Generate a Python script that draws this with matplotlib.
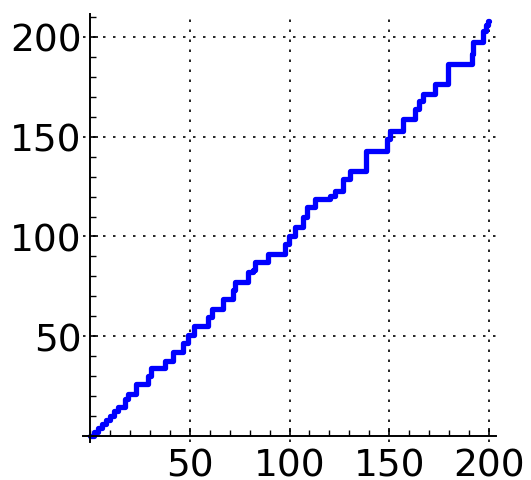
import matplotlib
matplotlib.use("Agg")
import matplotlib.pyplot as plt
from matplotlib.ticker import MultipleLocator, FixedLocator

# step start positions and levels
step_x = [0, 2, 4, 6, 8, 10, 12, 14, 17.5, 19, 23.3, 29, 30.5, 37.6, 41.8, 46.8,
          49.3, 52, 59.3, 61, 66.8, 71.8, 72.7, 79.4, 81.5, 82.7, 89.4, 97.7,
          99.5, 102.8, 106.9, 108.6, 112.8, 120.5, 123, 127, 130.3, 138.3,
          148.7, 150.3, 157.1, 162.9, 165, 167.1, 172.9, 179.6, 191.3, 192.1,
          197.1, 198.5, 199.6, 200]
step_y = [0, 2, 4, 6, 8, 10, 12.5, 14.5, 18.5, 21, 26, 30, 34, 37.8, 42, 46.5,
          50.5, 55, 59.5, 63.7, 68.7, 73, 77, 82, 83, 87, 91.2, 96.2,
          100.4, 104.6, 109.6, 114.6, 118.8, 120.5, 123, 128.8, 133, 143,
          148.9, 153, 158.9, 163.9, 168, 171.4, 176.4, 186.4, 191.5, 197.3,
          203.2, 206, 208, 208]

major_ticks = [50, 100, 150, 200]
tick_labels = ["50", "100", "150", "200"]

fig = plt.figure(figsize=(5.31, 4.81), dpi=100)
ax = fig.add_axes([83/531, 38/481, 413/531, 428/481])

ax.step(step_x, step_y, where="post", color=(0, 0, 1), lw=3.8,
        solid_joinstyle="round", solid_capstyle="round", zorder=3)

ax.set_xlim(-3.5, 203.5)
ax.set_ylim(-3, 211.5)

for s in ["top", "right"]:
    ax.spines[s].set_visible(False)
ax.spines["left"].set_position(("data", 0))
ax.spines["bottom"].set_position(("data", 0))
for s in ["left", "bottom"]:
    ax.spines[s].set_linewidth(1.4)
    ax.spines[s].set_zorder(4)

ax.xaxis.set_major_locator(FixedLocator(major_ticks))
ax.yaxis.set_major_locator(FixedLocator(major_ticks))
ax.xaxis.set_minor_locator(MultipleLocator(10))
ax.yaxis.set_minor_locator(MultipleLocator(10))
ax.set_xticklabels(tick_labels)
ax.set_yticklabels(tick_labels)

ax.tick_params(which="major", direction="in", length=6, width=1.2,
               labelsize=27, colors="black")
ax.tick_params(axis="x", which="major", pad=8)
ax.tick_params(axis="y", which="major", pad=6)
ax.tick_params(which="minor", direction="in", length=4, width=1.0)

ax.grid(True, which="major", color="black", linestyle=(0, (1.5, 4.5)), lw=1.2)
ax.set_axisbelow(True)

fig.savefig("out.png", dpi=100)
